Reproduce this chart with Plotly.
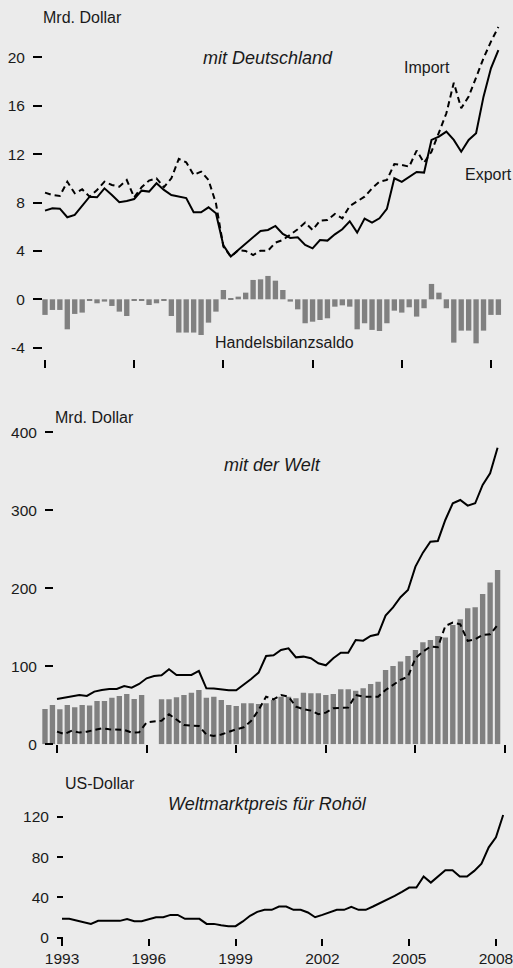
import plotly.graph_objects as go

# ---------------- data ----------------
years = [1993, 1996, 1999, 2002, 2005, 2008]
year_labels = ["1993", "1996", "1999", "2002", "2005", "2008"]

# quarters 1993Q1 .. 2008Q2
quarters = [1993 + i / 4 for i in range(62)]
# quarters 1993Q1 .. 2007Q4 (world panel lines)
quarters_w = quarters[:60]

de_export = [7.33, 7.52, 7.49, 6.78, 6.97, 7.74, 8.48, 8.43, 9.17, 8.62,
             8.02, 8.13, 8.29, 8.98, 8.90, 9.59, 9.04, 8.62, 8.48, 8.37,
             7.19, 7.19, 7.60, 7.11, 4.46, 3.53, 4.08, 4.63, 5.18, 5.65,
             5.73, 6.06, 5.40, 5.07, 5.12, 4.49, 4.21, 4.90, 4.85, 5.37,
             5.79, 6.45, 5.51, 6.67, 6.34, 6.69, 7.47, 10.0, 9.70, 10.14,
             10.52, 10.47, 13.17, 13.44, 13.86, 13.17, 12.20, 13.17, 13.72, 16.75,
             19.09, 20.6]
de_import = [8.82, 8.62, 8.54, 9.72, 8.76, 9.09, 8.48, 9.04, 9.72, 9.45,
             9.31, 9.86, 8.43, 9.26, 9.81, 10.0, 9.26, 10.0, 11.6, 11.32,
             10.28, 10.55, 9.86, 7.93, 4.35, 3.53, 4.05, 4.0, 3.66, 4.02,
             4.02, 4.68, 4.90, 5.32, 5.79, 6.34, 5.73, 6.50, 6.56, 7.05,
             6.69, 7.71, 8.07, 8.48, 9.17, 9.72, 9.86, 11.18, 11.10, 10.96,
             12.29, 11.29, 12.20, 13.86, 15.37, 17.9, 15.79, 16.75, 18.4, 19.92,
             21.3, 22.5]
de_saldo = [-1.29, -0.88, -0.88, -2.48, -1.21, -1.10, -0.10, -0.33, -0.19, -0.55,
            -1.02, -1.38, -0.10, -0.10, -0.47, -0.33, -0.14, -1.38, -2.75, -2.75,
            -2.75, -2.95, -1.93, -1.02, 0.77, 0.10, 0.22, 0.55, 1.60, 1.65,
            1.93, 1.54, 0.77, -0.19, -0.83, -1.98, -1.85, -1.71, -1.57, -0.61,
            -0.50, -0.61, -2.48, -1.98, -2.53, -2.62, -1.98, -0.94, -1.10, -0.66,
            -1.43, -0.74, 1.27, 0.55, -0.74, -3.58, -2.59, -2.59, -3.64, -2.59,
            -1.29, -1.29]

world_export = [58.1, 59.8, 61.1, 63.2, 62.0, 67.5, 69.7, 70.9, 70.9, 74.8,
                72.6, 77.4, 84.6, 87.6, 88.5, 96.2, 88.9, 88.9, 88.9, 94.0,
                71.8, 71.4, 70.1, 69.2, 69.2, 76.1, 83.8, 92.0, 113.2, 114.1,
                120.9, 123.1, 111.5, 112.4, 110.3, 103.8, 101.3, 110.3, 117.5, 117.5,
                133.8, 132.9, 138.9, 141.0, 165.0, 175.6, 188.5, 197.9, 227.8, 245.7,
                259.8, 260.7, 287.6, 309.0, 313.2, 306.0, 309.0, 332.5, 347.4, 380.3]
world_import = [16.2, 13.2, 17.5, 15.0, 16.2, 18.4, 20.5, 19.2, 19.2, 18.4,
                15.0, 15.4, 28.2, 29.1, 30.3, 38.5, 31.2, 24.8, 23.9, 23.5,
                12.5, 10.7, 12.5, 16.0, 19.2, 21.8, 30.0, 44.0, 61.1, 57.7,
                63.2, 61.1, 48.3, 44.9, 43.2, 38.5, 40.6, 46.2, 46.2, 47.0,
                63.2, 61.1, 61.1, 61.1, 69.7, 76.1, 82.5, 86.8, 110.3, 118.8,
                125.2, 124.4, 151.7, 156.0, 153.8, 132.5, 134.6, 140.2, 141.0, 153.0]
# trade balance bars, 1993Q1-1996Q2 and 1996Q3-2007Q4
world_saldo_a = [45.3, 50.4, 44.9, 50.4, 47.4, 50.4, 49.6, 55.6, 55.6, 59.8,
                 62.0, 64.5, 58.1, 63.2]
world_saldo_b = [57.7, 57.7, 60.3, 63.2, 66.2, 69.7, 59.8, 61.1, 56.8, 50.4,
                 49.1, 52.6, 52.6, 51.7, 52.6, 56.8, 61.1, 61.1, 59.0, 66.2,
                 65.4, 65.4, 63.2, 64.5, 70.5, 70.5, 68.8, 71.8, 77.4, 80.3,
                 95.3, 100.4, 106.0, 113.2, 120.9, 130.8, 133.8, 138.9, 136.8, 153.0,
                 160.3, 174.4, 175.6, 192.7, 207.3, 223.5]

oil = [18.8, 18.8, 17.1, 15.5, 13.8, 16.8, 16.8, 16.8, 16.8, 18.5,
       16.5, 16.5, 18.5, 20.4, 20.4, 22.7, 22.7, 18.8, 18.8, 18.8,
       13.8, 13.8, 12.5, 11.5, 11.5, 16.2, 21.8, 25.7, 27.7, 27.7,
       31.0, 31.0, 27.7, 27.7, 25.1, 20.4, 22.7, 25.1, 27.7, 27.7,
       30.7, 27.7, 27.7, 31.0, 34.3, 37.6, 41.5, 45.5, 49.8, 49.8,
       60.7, 54.7, 60.7, 66.9, 66.9, 60.7, 60.7, 66.3, 73.5, 89.7,
       99.6, 121.7]

# ---------------- layout helpers (pixels -> paper) ----------------
W, H = 513, 968
BG = "#ebebeb"
BAR = "#808080"
INK = "#1a1a1a"
FONT = "Liberation Sans, Arial, sans-serif"


def px(x):
    return x / W


def py(y):
    return 1 - y / H


PLOT_L = 38  # left edge of all plot areas (px)


def xrange_for(x1993, px_per_year):
    return [1993 - (x1993 - PLOT_L) / px_per_year, 1993 + (W - x1993) / px_per_year]


def yrange_for(zero_px, px_per_unit, top_px, bottom_px):
    return [(zero_px - bottom_px) / px_per_unit, (zero_px - top_px) / px_per_unit]


# panel geometry
X_TOP = xrange_for(45, 29.73)
X_MID = xrange_for(57, 29.87)
X_BOT = xrange_for(62, 28.93)
Y_TOP = yrange_for(299.3, 12.1, 20, 359)
Y_MID = yrange_for(744.3, 0.78, 420, 744.3)
Y_BOT = yrange_for(937.8, 1.009, 800, 937.8)

fig = go.Figure()

dash = "6px,4px"

# --- top panel ---
fig.add_trace(go.Bar(x=quarters, y=de_saldo, width=0.18, marker=dict(color=BAR, line_width=0),
                     xaxis="x", yaxis="y"))
fig.add_trace(go.Scatter(x=quarters, y=de_export, mode="lines", line=dict(color="black", width=2),
                         xaxis="x", yaxis="y"))
fig.add_trace(go.Scatter(x=quarters, y=de_import, mode="lines", line=dict(color="black", width=2, dash=dash),
                         xaxis="x", yaxis="y"))

# --- middle panel ---
fig.add_trace(go.Bar(x=quarters[:14], y=world_saldo_a, width=0.18, marker=dict(color=BAR, line_width=0),
                     xaxis="x2", yaxis="y2"))
fig.add_trace(go.Bar(x=quarters_w[14:], y=world_saldo_b, width=0.18, marker=dict(color=BAR, line_width=0),
                     xaxis="x4", yaxis="y2"))
fig.add_trace(go.Scatter(x=quarters_w, y=world_export, mode="lines", line=dict(color="black", width=2),
                         xaxis="x4", yaxis="y2"))
fig.add_trace(go.Scatter(x=quarters_w, y=world_import, mode="lines", line=dict(color="black", width=2, dash=dash),
                         xaxis="x4", yaxis="y2"))

# --- bottom panel ---
fig.add_trace(go.Scatter(x=quarters, y=oil, mode="lines", line=dict(color="black", width=2),
                         xaxis="x3", yaxis="y3"))

tickfont = dict(family=FONT, size=15.5, color=INK)
common_x = dict(showgrid=False, zeroline=False, showline=False, ticks="outside", ticklen=8,
                tickwidth=2, tickcolor="black", tickvals=years, fixedrange=True, automargin=False)
common_y = dict(showgrid=False, zeroline=False, showline=False, ticks="outside",
                tickwidth=2, tickcolor="black", tickfont=tickfont, fixedrange=True,
                ticklabelstandoff=5, automargin=False)

fig.update_layout(
    width=W, height=H,
    margin=dict(l=0, r=0, t=0, b=0, autoexpand=False),
    paper_bgcolor=BG, plot_bgcolor=BG,
    showlegend=False, barmode="overlay",
    font=dict(family=FONT, color=INK),
    xaxis=dict(common_x, domain=[px(PLOT_L), 1], range=X_TOP, anchor="free", position=py(359),
               showticklabels=False),
    yaxis=dict(common_y, domain=[py(359), py(20)], range=Y_TOP, anchor="free", position=px(42),
               ticklen=9, tickvals=[-4, 0, 4, 8, 12, 16, 20],
               ticktext=["-4", "0", "4", "8", "12", "16", "20"]),
    xaxis2=dict(domain=[px(PLOT_L), 1], range=X_TOP, anchor="y2", visible=False, fixedrange=True,
                automargin=False),
    xaxis4=dict(common_x, range=X_MID, overlaying="x2", anchor="free", position=py(744.3),
                showticklabels=False),
    yaxis2=dict(common_y, domain=[py(744.3), py(420)], range=Y_MID, anchor="free", position=px(53),
                ticklen=8, tickvals=[0, 100, 200, 300, 400]),
    xaxis3=dict(common_x, domain=[px(PLOT_L), 1], range=X_BOT, anchor="free", position=py(937.8),
                ticklen=7, ticktext=year_labels, showticklabels=True, tickfont=tickfont,
                ticklabelstandoff=0, ticklabeloverflow="allow"),
    yaxis3=dict(common_y, domain=[py(937.8), py(800)], range=Y_BOT, anchor="free", position=px(63),
                ticklen=6, tickvals=[0, 40, 80, 120]),
)


def label(text, x, y, size=16, italic=False, xanchor="center"):
    fig.add_annotation(text=text, x=px(x), y=py(y), xref="paper", yref="paper",
                       xanchor=xanchor, yanchor="middle", showarrow=False,
                       font=dict(family=FONT, size=size, color=INK,
                                 style="italic" if italic else "normal"))


label("Mrd. Dollar", 41, 18, xanchor="left")
label("mit Deutschland", 268, 58, size=18, italic=True)
label("Import", 427, 67)
label("Export", 488, 175)
label("Handelsbilanzsaldo", 284, 342)
label("Mrd. Dollar", 53, 417, xanchor="left")
label("mit der Welt", 272, 465, size=18, italic=True)
label("US-Dollar", 63, 783, xanchor="left")
label("Weltmarktpreis für Rohöl", 267, 804, size=18, italic=True)

# remove the browser's default page margin so the figure sits at the window's corner
page_fix = (
    "document.body.style.margin='0';"
    "document.body.style.padding='0';"
    "document.body.style.background='" + BG + "';"
)

fig.write_html("out.html", post_script=page_fix, config={"displayModeBar": False})
